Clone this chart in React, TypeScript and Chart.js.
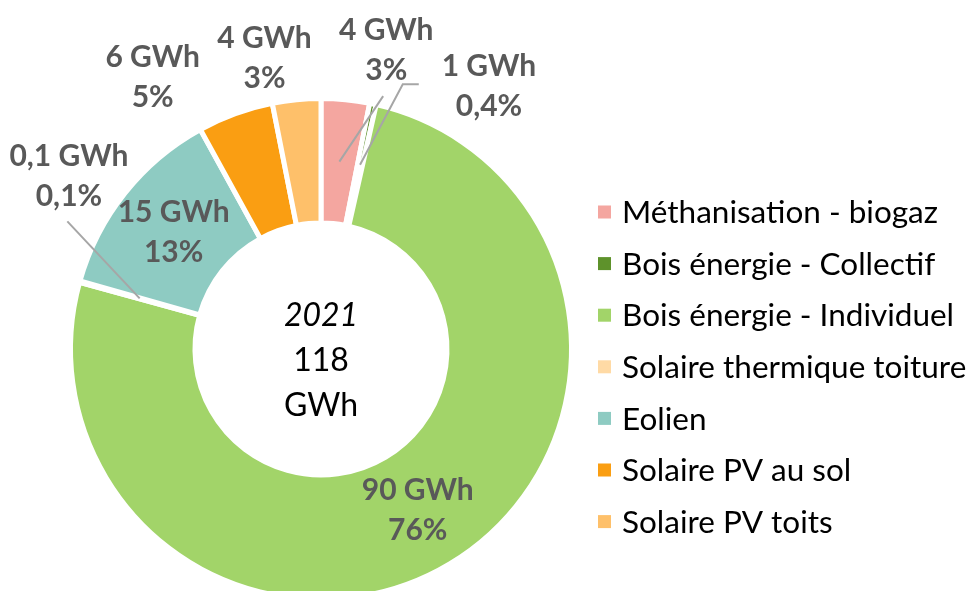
import React, { useEffect, useRef } from "react";
import { Chart, registerables } from "chart.js";

Chart.register(...registerables);

// ---- data ----
const categories = [
  "Méthanisation - biogaz",
  "Bois énergie - Collectif",
  "Bois énergie - Individuel",
  "Solaire thermique toiture",
  "Eolien",
  "Solaire PV au sol",
  "Solaire PV toits",
];
const valuesGWh = [3.7, 0.5, 90, 0.1, 15, 5.8, 3.7];
const energyLabels = ["4 GWh", "1 GWh", "90 GWh", "0,1 GWh", "15 GWh", "6 GWh", "4 GWh"];
const shareLabels = ["3%", "0,4%", "76%", "0,1%", "13%", "5%", "3%"];
const centerYear = "2021";
const centerTotalLines = ["118", "GWh"];

// ---- style ----
const colors = ["#F4A6A0", "#5E922B", "#A2D469", "#FFDAA5", "#8ECBC2", "#FA9E12", "#FEC06A"];
const BORDER = 5;
const FONT = "Lato";
const DEG = Math.PI / 180;

type Placement = {
  inside: boolean;
  dAngle?: number;
  rFactor?: number;
  leader?: { dAngle: number; rFactor: number };
  tail?: number;
};

const labelPlacement: Placement[] = [
  { inside: false, dAngle: 6.7, rFactor: 1.234, leader: { dAngle: 8.2, rFactor: 1.05 } },
  { inside: false, dAngle: 20.6, rFactor: 1.258, leader: { dAngle: 5.2, rFactor: 1.117 }, tail: 16 },
  { inside: true },
  { inside: false, dAngle: 18.8, rFactor: 1.232, leader: { dAngle: 11.1, rFactor: 1.145 } },
  { inside: true },
  { inside: false, dAngle: -11.8, rFactor: 1.288 },
  { inside: false, dAngle: -5.4, rFactor: 1.194 },
];

const sliceLabels = {
  id: "sliceLabels",
  afterDatasetsDraw(chart: any) {
    const ctx = chart.ctx as CanvasRenderingContext2D;
    const meta = chart.getDatasetMeta(0);
    ctx.save();
    meta.data.forEach((arc: any, i: number) => {
      const p = arc.getProps(["x", "y", "startAngle", "endAngle", "innerRadius", "outerRadius"], true);
      const R = p.outerRadius - BORDER / 2;
      const r0 = p.innerRadius + BORDER / 2;
      const mid = (p.startAngle + p.endAngle) / 2;
      const midR = (R + r0) / 2;
      const pl = labelPlacement[i];
      let lx: number, ly: number;
      if (pl.inside) {
        lx = p.x + Math.cos(mid) * midR;
        ly = p.y + Math.sin(mid) * midR;
      } else {
        const a = mid + (pl.dAngle as number) * DEG;
        const rr = R * (pl.rFactor as number);
        lx = p.x + Math.cos(a) * rr;
        ly = p.y + Math.sin(a) * rr;
        if (pl.leader) {
          const sx = p.x + Math.cos(mid) * midR;
          const sy = p.y + Math.sin(mid) * midR;
          const ea = mid + pl.leader.dAngle * DEG;
          const er = R * pl.leader.rFactor;
          const ex = p.x + Math.cos(ea) * er;
          const ey = p.y + Math.sin(ea) * er;
          ctx.strokeStyle = "#A6A6A6";
          ctx.lineWidth = 2;
          ctx.beginPath();
          ctx.moveTo(sx, sy);
          ctx.lineTo(ex, ey);
          if (pl.tail) ctx.lineTo(ex + pl.tail, ey);
          ctx.stroke();
        }
      }
      ctx.fillStyle = "#595959";
      ctx.font = `bold 30px ${FONT}`;
      ctx.textAlign = "center";
      ctx.textBaseline = "middle";
      ctx.fillText(energyLabels[i], lx, ly - 20);
      ctx.fillText(shareLabels[i], lx, ly + 20);
    });

    // centre text
    const a0 = meta.data[0];
    const cx = a0.x;
    const cy = a0.y;
    ctx.fillStyle = "#000000";
    ctx.textAlign = "center";
    ctx.textBaseline = "middle";
    ctx.font = `italic 32px ${FONT}`;
    ctx.fillText(centerYear, cx, cy - 33);
    ctx.font = `32px ${FONT}`;
    ctx.fillText(centerTotalLines[0], cx, cy + 12);
    ctx.fillText(centerTotalLines[1], cx, cy + 57);
    ctx.restore();
  },
};

const legendPlugin = {
  id: "sideLegend",
  afterDraw(chart: any) {
    const ctx = chart.ctx as CanvasRenderingContext2D;
    const labels: string[] = chart.data.labels;
    const bg: string[] = chart.data.datasets[0].backgroundColor;
    const boxX = 598;
    const box = 13;
    const textX = 622;
    const firstY = 212;
    const step = 51.6;
    ctx.save();
    ctx.font = `31.5px ${FONT}`;
    ctx.textAlign = "left";
    ctx.textBaseline = "middle";
    labels.forEach((lab, i) => {
      const y = firstY + i * step;
      ctx.fillStyle = bg[i];
      ctx.fillRect(boxX, y - box / 2, box, box);
      ctx.fillStyle = "#000000";
      ctx.fillText(lab, textX, y + 1);
    });
    ctx.restore();
  },
};

export default function App() {
  const ref = useRef<HTMLCanvasElement | null>(null);
  useEffect(() => {
    document.body.style.margin = "0";
    const canvas = ref.current!;
    const chart = new Chart(canvas, {
      type: "doughnut",
      data: {
        labels: categories,
        datasets: [
          {
            data: valuesGWh,
            backgroundColor: colors,
            borderColor: "#FFFFFF",
            borderWidth: BORDER,
            radius: 250.5,
            cutout: "50.3%",
          } as any,
        ],
      },
      options: {
        responsive: false,
        animation: false,
        devicePixelRatio: 1,
        layout: { padding: { left: 0, right: 332, top: 0, bottom: 0 } },
        plugins: { legend: { display: false }, tooltip: { enabled: false } },
      },
      plugins: [sliceLabels, legendPlugin],
    });
    return () => chart.destroy();
  }, []);
  return (
    <div style={{ position: "fixed", left: 0, top: 0, width: 974, height: 591, overflow: "hidden", background: "#fff" }}>
      <canvas ref={ref} width={974} height={698} style={{ width: 974, height: 698, display: "block" }} />
    </div>
  );
}
